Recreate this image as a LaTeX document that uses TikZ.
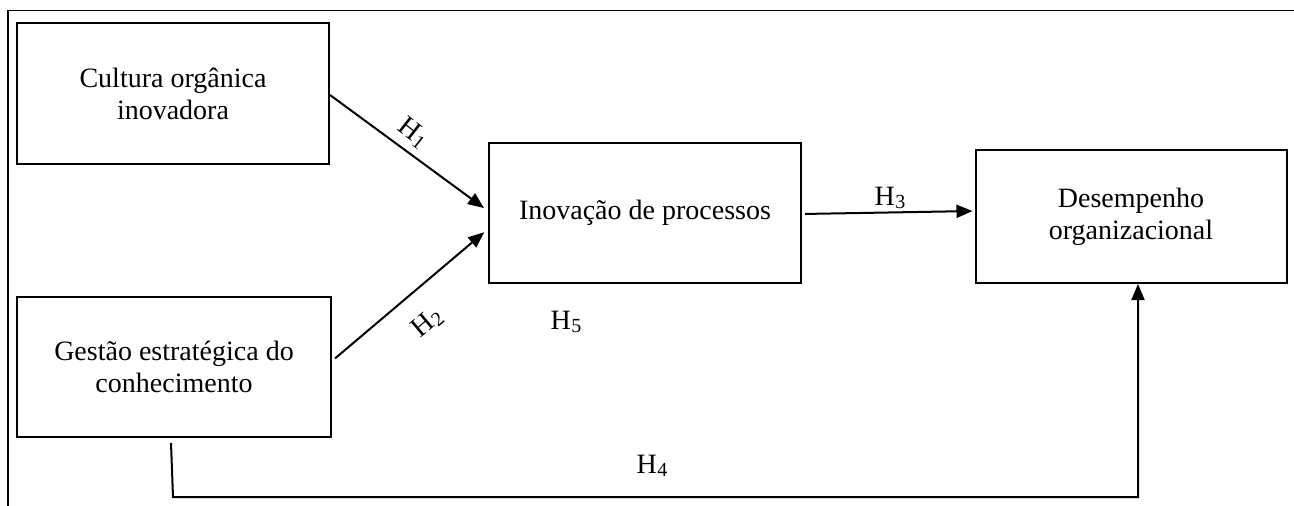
\documentclass[tikz,border=0pt]{standalone}
\usepackage{fontspec}
\setmainfont{Liberation Serif}
\usetikzlibrary{arrows.meta}
\newcommand\hyp[1]{H\kern0.5pt\raisebox{-0.25ex}{\fontsize{20}{20}\selectfont #1}}
\begin{document}
\begin{tikzpicture}[x=1pt,y=-1pt,
  box/.style={draw, line width=2pt, inner sep=0pt, align=center,
    font=\fontsize{28}{32}\selectfont},
  arr/.style={line width=2pt, -{Triangle[length=16pt,width=13pt]}},
  lab/.style={font=\fontsize{28}{32}\selectfont, inner sep=0pt},
  frame/.style={line width=1.8pt}]
\useasboundingbox (0,0) rectangle (1294,506);
\coordinate (f1) at (8,506);
\coordinate (f2) at (8,10.5);
\coordinate (f3) at (1294,10.5);
\draw[frame] (f1) -- (f2) -- (f3);

\node[box, minimum width=312pt, minimum height=141pt] (b1) at (173,93.5) {Cultura orgânica\\inovadora};
\node[box, minimum width=312pt, minimum height=140pt] (b2) at (645,213) {Inovação de processos};
\node[box, minimum width=311pt, minimum height=133pt] (b3) at (1131,216.5) {Desempenho\\organizacional};
\node[box, minimum width=314pt, minimum height=140pt] (b4) at (174,367) {Gestão estratégica do\\conhecimento};

\draw[arr, shorten >=5pt] ([yshift=-1.5pt]b1.east) -- ([yshift=2pt]b2.west);
\draw[arr, shorten >=5pt, shorten <=4pt] ([yshift=6pt]b4.east) -- ([yshift=-16pt]b2.west);
\draw[arr, shorten <=3pt, shorten >=2pt] ([yshift=-1pt]b2.east) -- ([yshift=5.5pt]b3.west);

\coordinate (c0) at (171,443);
\coordinate (c1) at (173,497);
\coordinate (c2) at (1138,497);
\draw[arr] (c0) -- (c1) -- (c2) -- ([xshift=7pt]b3.south);

\node[lab, rotate=-38] (h1) at (413,133) {\hyp{1}};
\node[lab, rotate=40] (h2) at (427,323) {\hyp{2}};
\node[lab] (h3) at (890,198) {\hyp{3}};
\node[lab] (h5) at (566,322) {\hyp{5}};
\node[lab] (h4) at (652,466) {\hyp{4}};
\end{tikzpicture}
\end{document}
